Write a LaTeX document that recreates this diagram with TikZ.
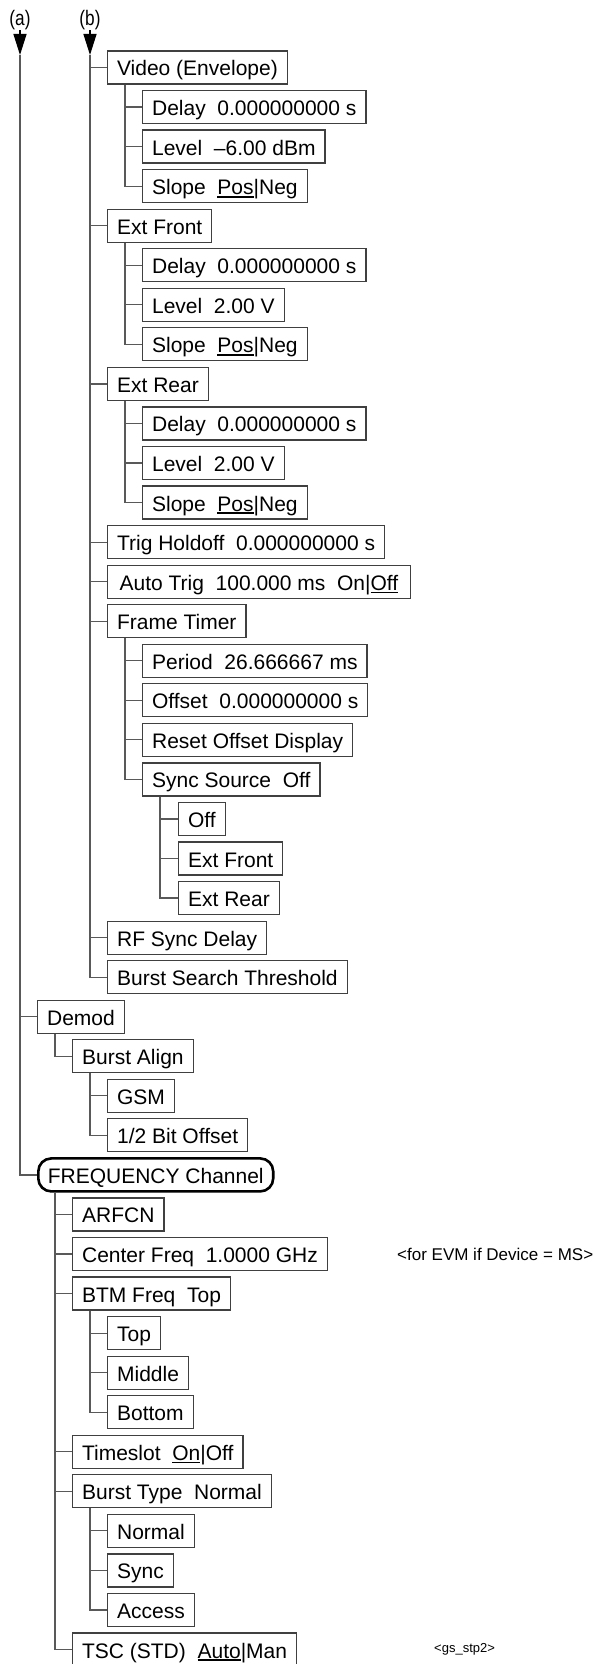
\documentclass[tikz,border=0pt]{standalone}
\usepackage{fontspec}
\setmainfont{Liberation Sans}
\usetikzlibrary{arrows.meta}
\newcommand\uln[1]{\setbox0\hbox{#1}\rlap{\rule[-3.2pt]{\wd0}{1.8pt}}\box0}
\begin{document}
\begin{tikzpicture}[
  mbox/.style={draw=black!75, line width=1.2pt, minimum height=33pt, inner xsep=9.5pt, inner ysep=0pt, anchor=west, font=\fontsize{21}{25}\selectfont, text height=18pt, text depth=1pt},
  freqbox/.style={mbox, draw=black, line width=2.6pt, rounded corners=13pt},
  conn/.style={draw=black!65, line width=1.2pt},
  lbl/.style={font=\fontsize{21}{25}\selectfont, inner sep=0pt},
  note/.style={font=\fontsize{17}{20}\selectfont, anchor=west, inner sep=0pt},
]
\useasboundingbox (0pt,0pt) rectangle (594pt,-1664pt);
\begin{scope}[x=1pt,y=-39.55pt,yshift=-27.95pt]
\node[lbl] (la) at (20,-0.2) {\scalebox{0.82}[1]{(a)}};
\node[lbl] (lb) at (90,-0.2) {\scalebox{0.82}[1]{(b)}};
\coordinate (ta) at (20,0.684);
\coordinate (tb) at (90,0.684);
\node[mbox] (vid) at (107,1) {Video (Envelope)};
\node[mbox] (vd) at (142,2) {Delay\ \ 0.000000000 s};
\node[mbox] (vl) at (142,3) {Level\ \ –6.00 dBm};
\node[mbox] (vs) at (142,4) {Slope\ \ \uln{Pos}|Neg};
\node[mbox] (ef) at (107,5) {Ext Front};
\node[mbox] (fd) at (142,6) {Delay\ \ 0.000000000 s};
\node[mbox] (fl) at (142,7) {Level\ \ 2.00 V};
\node[mbox] (fs) at (142,8) {Slope\ \ \uln{Pos}|Neg};
\node[mbox] (er) at (107,9) {Ext Rear};
\node[mbox] (rd) at (142,10) {Delay\ \ 0.000000000 s};
\node[mbox] (rl) at (142,11) {Level\ \ 2.00 V};
\node[mbox] (rs) at (142,12) {Slope\ \ \uln{Pos}|Neg};
\node[mbox] (th) at (107,13) {Trig Holdoff\ \ 0.000000000 s};
\node[mbox, inner xsep=12pt] (at) at (107,14) {Auto Trig\ \ 100.000 ms\ \ On|\uln{Off}};
\node[mbox] (ft) at (107,15) {Frame Timer};
\node[mbox] (pe) at (142,16) {Period\ \ 26.666667 ms};
\node[mbox] (of) at (142,17) {Offset\ \ 0.000000000 s};
\node[mbox] (ro) at (142,18) {Reset Offset Display};
\node[mbox] (ss) at (142,19) {Sync Source\ \ Off};
\node[mbox] (so) at (178,20) {Off};
\node[mbox] (sf) at (178,21) {Ext Front};
\node[mbox] (sr) at (178,22) {Ext Rear};
\node[mbox] (rf) at (107,23) {RF Sync Delay};
\node[mbox] (bs) at (107,24) {Burst Search Threshold};
\node[mbox] (dm) at (37,25) {Demod};
\node[mbox] (ba) at (72,26) {Burst Align};
\node[mbox] (gs) at (107,27) {GSM};
\node[mbox] (hb) at (107,28) {1/2 Bit Offset};
\node[freqbox] (fc) at (37,29) {FREQUENCY Channel};
\node[mbox] (ar) at (72,30) {ARFCN};
\node[mbox] (cf) at (72,31) {Center Freq\ \ 1.0000 GHz};
\node[mbox] (bf) at (72,32) {BTM Freq\ \ Top};
\node[mbox] (tp) at (107,33) {Top};
\node[mbox] (md) at (107,34) {Middle};
\node[mbox] (bo) at (107,35) {Bottom};
\node[mbox] (ts) at (72,36) {Timeslot\ \ \uln{On}|Off};
\node[mbox] (bt) at (72,37) {Burst Type\ \ Normal};
\node[mbox] (nm) at (107,38) {Normal};
\node[mbox] (sy) at (107,39) {Sync};
\node[mbox] (ac) at (107,40) {Access};
\node[mbox] (tsc) at (72,41) {TSC (STD)\ \ \uln{Auto}|Man};
\node[note] (nt) at (397,31) {<for EVM if Device = MS>};
\node[note, font=\fontsize{13}{15}\selectfont] (gs2) at (434,41) {<gs\_stp2>};
% arrows
\draw[conn, draw=black, {}-{Triangle[length=21pt,width=13pt]}] (la.south) -- (ta);
\draw[conn, draw=black, {}-{Triangle[length=21pt,width=13pt]}] (lb.south) -- (tb);
% connectors
\foreach \c in {dm,fc} \draw[conn] (ta) |- (\c.west);
\foreach \c in {vid,ef,er,th,at,ft,rf,bs} \draw[conn] (tb) |- (\c.west);
\foreach \c in {vd,vl,vs} \draw[conn] ([xshift=18pt]vid.south west) |- (\c.west);
\foreach \c in {fd,fl,fs} \draw[conn] ([xshift=18pt]ef.south west) |- (\c.west);
\foreach \c in {rd,rl,rs} \draw[conn] ([xshift=18pt]er.south west) |- (\c.west);
\foreach \c in {pe,of,ro,ss} \draw[conn] ([xshift=18pt]ft.south west) |- (\c.west);
\foreach \c in {so,sf,sr} \draw[conn] ([xshift=18pt]ss.south west) |- (\c.west);
\draw[conn] ([xshift=18pt]dm.south west) |- (ba.west);
\foreach \c in {gs,hb} \draw[conn] ([xshift=18pt]ba.south west) |- (\c.west);
\foreach \c in {ar,cf,bf,ts,bt,tsc} \draw[conn] ([xshift=18pt]fc.south west) |- (\c.west);
\foreach \c in {tp,md,bo} \draw[conn] ([xshift=18pt]bf.south west) |- (\c.west);
\foreach \c in {nm,sy,ac} \draw[conn] ([xshift=18pt]bt.south west) |- (\c.west);
\end{scope}
\end{tikzpicture}
\end{document}
